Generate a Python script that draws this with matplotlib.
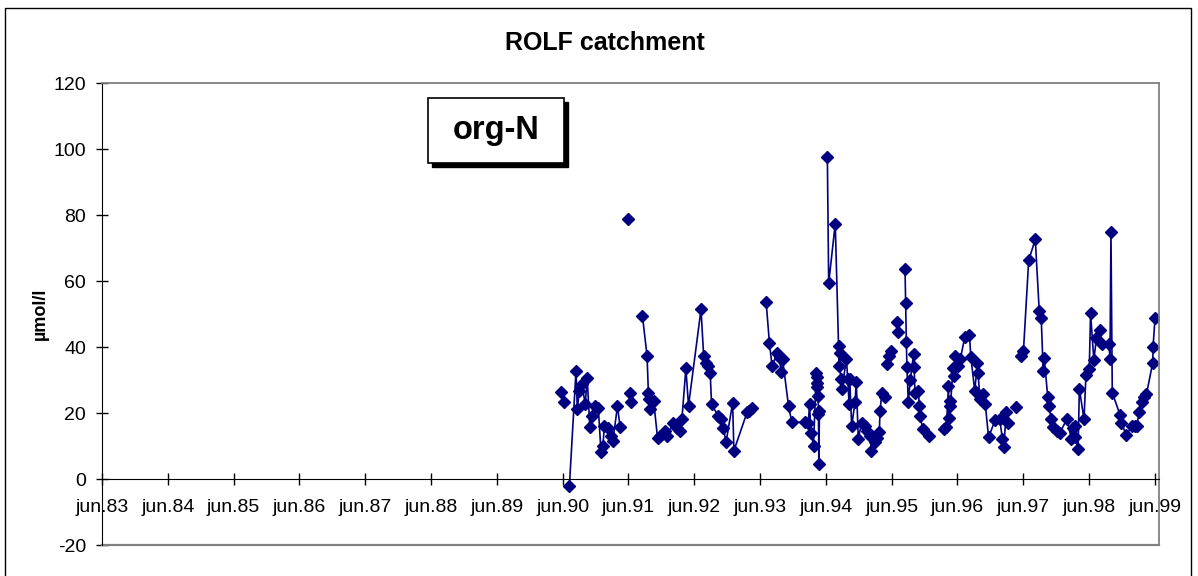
import matplotlib.pyplot as plt
from matplotlib.patches import Rectangle
import numpy as np

plt.rcParams['font.family'] = ['Liberation Sans', 'DejaVu Sans']
plt.rcParams['axes.unicode_minus'] = False

# sample dates (decimal years) and org-N values, None = gap in the line
dates = [
    1990.39, None, 1990.44, None,
    1990.52, 1990.62, 1990.64, 1990.67, 1990.71, 1990.76, 1990.79, 1990.83,
    1990.86, 1990.91, 1990.96, 1991.00, 1991.03, 1991.05, 1991.11, 1991.15,
    1991.18, 1991.25, 1991.29, None,
    1991.41, None, 1991.44, None, 1991.46, None,
    1991.63, 1991.70, 1991.72, 1991.73, 1991.75, 1991.80, 1991.86, 1991.90,
    1991.97, 1992.01, 1992.09, 1992.15, 1992.20, 1992.23, 1992.29, 1992.33,
    1992.52, 1992.56, 1992.59, 1992.63, 1992.66, 1992.68, 1992.78, 1992.82,
    1992.86, 1992.90, 1993.00, 1993.02, 1993.22, 1993.25, 1993.29, None,
    1993.51, 1993.56, 1993.60, 1993.68, 1993.72, 1993.73, 1993.76, 1993.85,
    1993.90, 1994.10, 1994.15, 1994.17, 1994.19, 1994.23, 1994.27, 1994.28,
    1994.285, 1994.29, 1994.30, 1994.305, 1994.31, 1994.32, None,
    1994.44, 1994.46, 1994.56, 1994.61, 1994.62, 1994.63, 1994.64, 1994.66,
    1994.73, 1994.75, 1994.77, 1994.78, 1994.81, 1994.86, 1994.88, 1994.91,
    1994.96, 1995.01, 1995.04, 1995.09, 1995.11, 1995.17, 1995.19, 1995.23,
    1995.24, 1995.27, 1995.32, None,
    1995.35, None, 1995.37, None, 1995.40, None, 1995.50, None, 1995.51, None,
    1995.62, 1995.63, 1995.64, 1995.65, 1995.67, 1995.70, 1995.75, 1995.76,
    1995.77, 1995.82, 1995.84, 1995.85, 1995.89, 1995.99, None,
    1996.21, 1996.25, 1996.28, 1996.29, 1996.30, 1996.31, 1996.35, 1996.36,
    1996.38, 1996.43, 1996.46, 1996.53, 1996.60, 1996.62, 1996.68, 1996.72,
    1996.73, 1996.76, 1996.80, 1996.84, 1996.89, 1996.99, 1997.06, 1997.10,
    1997.12, 1997.16, 1997.18, None,
    1997.31, None,
    1997.39, 1997.42, 1997.50, 1997.60, 1997.66, 1997.69, 1997.72, 1997.735,
    1997.79, 1997.81, 1997.84, 1997.87, 1997.93, 1997.97, 1998.08, 1998.15,
    1998.18, 1998.20, 1998.21, 1998.25, 1998.27, 1998.34, 1998.37, 1998.42,
    1998.44, 1998.49, 1998.53, 1998.58, 1998.61, 1998.72, 1998.735, 1998.75,
    1998.77, 1998.89, 1998.91, 1998.98, 1999.07, 1999.12, 1999.14, 1999.18,
    1999.22, 1999.25, 1999.29, 1999.385, 1999.39, 1999.42,
]
org_n = [
    26.5, None, 23.4, None,
    -2.0, 32.7, 21.2, 26.7, 28.7, 22.7, 30.5, 15.9,
    19.0, 22.0, 21.4, 8.1, 10.1, 16.1, 15.6, 13.1,
    11.6, 22.0, 15.9, None,
    78.8, None, 26.2, None, 23.4, None,
    49.4, 37.3, 26.2, 24.2, 21.2, 23.7, 12.3, 12.9,
    14.6, 12.9, 17.1, 15.6, 14.6, 18.3, 33.5, 22.2,
    51.4, 37.3, 35.3, 34.3, 32.0, 22.7, 19.1, 18.1,
    15.6, 11.1, 23.0, 8.6, 20.2, 20.7, 21.4, None,
    53.6, 41.1, 34.3, 38.3, 36.8, 32.3, 36.3, 22.1,
    17.2, 17.2, 17.1, 22.7, 13.9, 10.1, 32.2, 30.8,
    29.1, 28.0, 25.2, 19.8, 4.6, 20.5, None,
    97.7, 59.3, 77.4, 40.3, 34.3, 38.3, 30.2, 27.2,
    36.3, 30.2, 22.7, 30.2, 16.1, 23.2, 29.4, 12.1,
    17.1, 16.1, 14.5, 13.1, 8.6, 11.1, 12.5, 14.1,
    20.7, 26.2, 24.7, None,
    34.8, None, 37.3, None, 38.8, None, 47.6, None, 44.5, None,
    63.5, 53.4, 41.5, 33.8, 23.2, 30.0, 37.8, 33.8,
    26.2, 26.7, 22.2, 19.1, 15.1, 13.1, None,
    15.1, 15.9, 28.2, 18.6, 23.7, 22.2, 33.5, 31.2,
    37.3, 34.3, 36.3, 43.1, 43.5, 37.1, 26.7, 35.1,
    32.0, 24.2, 25.7, 22.7, 12.6, 17.9, 18.1, 12.1,
    9.6, 20.2, 16.9, None,
    21.7, None,
    37.3, 38.8, 66.3, 72.6, 50.9, 48.9, 32.7, 36.8,
    24.7, 22.2, 18.3, 15.9, 14.6, 13.9, 18.1, 12.1,
    15.6, 16.1, 12.6, 9.1, 27.4, 18.1, 31.4, 33.3,
    50.2, 36.1, 42.8, 45.3, 40.8, 40.8, 36.3, 74.8,
    26.2, 19.3, 17.1, 13.3, 16.1, 16.1, 16.1, 20.2,
    23.2, 24.7, 25.7, 35.3, 40.1, 48.9,
]
tick_years = list(range(1983, 2000))
tick_labels = [f"jun.{y % 100:02d}" for y in tick_years]

W, H = 1198, 576
fig = plt.figure(figsize=(W / 100, H / 100), dpi=100)


def fx(px):
    return px / W


def fy(py):
    return 1 - py / H


ax = fig.add_axes([fx(102), fy(545), fx(1159) - fx(102), fy(83) - fy(545)])

x = np.array(dates, dtype=float)
y = np.array(org_n, dtype=float)
ax.plot(x, y, color='#000080', lw=1.2, marker='D', ms=6.3, mec='#000080', mfc='#000080')

ax.set_xlim(1983 + 5 / 12, 1999.48)
ax.set_ylim(-20, 120)
ax.set_yticks(range(-20, 121, 20))
ax.set_xticks([yr + 5 / 12 for yr in tick_years])
ax.set_xticklabels(tick_labels)

ax.spines['bottom'].set_position(('data', 0))
ax.spines['bottom'].set_color('black')
ax.spines['left'].set_color('black')
for s in ['top', 'right']:
    ax.spines[s].set_color('#808080')
    ax.spines[s].set_linewidth(1.3)
ax.axhline(-20, color='#808080', lw=1.6, clip_on=False)

ax.tick_params(axis='both', direction='inout', length=9, width=1, labelsize=14, colors='black')
ax.tick_params(axis='x', pad=10)
ax.tick_params(axis='y', pad=7)

fig.text(fx(605), fy(43), 'ROLF catchment', ha='center', va='center', fontsize=18, weight='bold')
fig.text(fx(40), fy(314), 'µmol/l', ha='center', va='center', rotation=90, fontsize=13, weight='bold')

# org-N label box with drop shadow
bx0, by0, bx1, by1 = 428, 98, 564, 163
fig.add_artist(Rectangle((fx(bx0 + 4), fy(by1 + 4)), fx(bx1 - bx0), fy(by0) - fy(by1),
                         transform=fig.transFigure, facecolor='black', edgecolor='black'))
fig.add_artist(Rectangle((fx(bx0), fy(by1)), fx(bx1 - bx0), fy(by0) - fy(by1),
                         transform=fig.transFigure, facecolor='white', edgecolor='black', lw=1.2))
fig.text(fx((bx0 + bx1) / 2), fy((by0 + by1) / 2), 'org-N', ha='center', va='center',
         fontsize=23.5, weight='bold')

# outer chart frame
fig.add_artist(Rectangle((fx(5), fy(590)), fx(1191 - 5), fy(8) - fy(590),
                         transform=fig.transFigure, fill=False, edgecolor='black', lw=1))

fig.savefig('out.png', dpi=100)
